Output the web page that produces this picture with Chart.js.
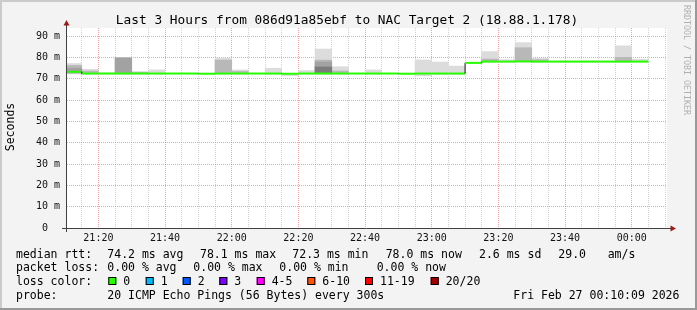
<!DOCTYPE html>
<html><head><meta charset="utf-8">
<script src="https://cdn.jsdelivr.net/npm/chart.js@4"></script>
<style>html,body{margin:0;padding:0;background:#f3f3f3;}#wrap{width:697px;height:310px;}</style>
</head><body><div id="wrap"><canvas id="c" width="697" height="310"></canvas></div>
<script>
// ---- data ----
const bucketTimes = ['21:10','21:15','21:20','21:25','21:30','21:35','21:40','21:45','21:50','21:55',
  '22:00','22:05','22:10','22:15','22:20','22:25','22:30','22:35','22:40','22:45','22:50','22:55',
  '23:00','23:05','23:10','23:15','23:20','23:25','23:30','23:35','23:40','23:45','23:50','23:55','00:00'];
const medians = [73.2,72.4,72.4,72.4,72.4,72.4,72.4,72.4,72.3,72.4,72.4,72.4,72.4,72.3,72.4,72.4,72.4,72.4,
  72.4,72.4,72.3,72.4,72.4,72.4,77.4,78.0,78.0,78.1,78.0,78.0,78.0,78.0,78.0,78.0,78.0];
const smokeOuter = [[72.2,77.1],[72.2,74.4],[72.2,72.8],[72.2,79.8],[72.2,73.3],[72.2,74.1],[72.3,72.6],[72.3,72.6],
  [72.2,72.6],[72.2,79.7],[72.2,74.1],[72.3,72.6],[72.2,74.9],[71.4,72.5],[72.2,73.8],[72.2,83.9],[72.2,75.6],
  [72.3,72.6],[72.2,74.1],[72.3,72.6],[72.2,72.6],[71.4,78.8],[72.0,77.8],[72.0,75.9],[77.2,77.7],[77.8,82.7],
  [77.8,78.9],[77.8,86.9],[77.8,79.5],[77.8,78.2],[77.8,78.2],[77.8,78.3],[77.8,78.2],[77.8,85.4],[77.8,79.1]];
const smokeMid = [[72.5,76.2],[72.3,73.6],null,null,[72.3,73.0],null,null,null,null,[72.3,78.7],[72.3,73.4],null,
  null,null,null,[72.3,78.7],[72.3,73.6],null,null,null,null,null,null,null,null,[77.9,79.2],null,[77.9,84.5],
  [77.9,78.9],null,null,null,null,[77.9,80.0],null];
const smokeInner = [[72.8,74.9],null,null,[72.3,79.8],null,null,null,null,null,null,null,null,null,null,null,
  [72.3,77.8],null,null,null,null,null,null,null,null,null,null,null,null,null,null,null,null,null,null,null];
const smokeCore = [null,null,null,null,null,null,null,null,null,null,null,null,null,null,null,
  [72.4,75.5],null,null,null,null,null,null,null,null,null,null,null,null,null,null,null,null,null,null,null];
const xMajorTicks = [20,40,60,80,100,120,140,160,180];
const xTickLabels = ['21:20','21:40','22:00','22:20','22:40','23:00','23:20','23:40','00:00'];
const yTickValues = [0,5,10,15,20,25,30,35,40,45,50,55,60,65,70,75,80,85,90];
const yTickLabels = {0:'0  ',10:'10 m',20:'20 m',30:'30 m',40:'40 m',50:'50 m',60:'60 m',70:'70 m',80:'80 m',90:'90 m'};
const xMin = 10.58, xMax = 190.58, yMax = 93.75, STEP = 5;
const titleText = 'Last 3 Hours from 086d91a85ebf to NAC Target 2 (18.88.1.178)';
const legendLines = [
  [['median rtt:',16],['74.2 ms avg',107.3],['78.1 ms max',200],['72.3 ms min',292.3],['78.0 ms now',385.7],['2.6 ms sd',479],['29.0',558.3],['am/s',607.7]],
  [['packet loss:',16],['0.00 % avg',107.3],['0.00 % max',193.3],['0.00 % min',279.3],['0.00 % now',376.7]],
  [['loss color:',16]],
  [['probe:',16],['20 ICMP Echo Pings (56 Bytes) every 300s',107.3],['Fri Feb 27 00:10:09 2026',513.3]]
];
const lossLabels = ['0','1','2','3','4-5','6-10','11-19','20/20'];
const lossColors = ['#26ff00','#00b8ff','#0059ff','#7e00ff','#ff00ff','#ff5500','#ff0000','#a10000'];
const lossBoxX = [108.3,145.7,182.7,219.3,256.7,307.3,365,430.7];

// ---- build ----
const toMin = s => { let [h,m] = s.split(':').map(Number); if (h < 12) h += 24; return (h-21)*60 + m; };
const starts = bucketTimes.map(toMin);
const mids = starts.map(s => s + STEP/2);
const bars = layer => layer.map((r,i) => r ? {x: mids[i], y: r} : null).filter(Boolean);
const medianPts = [];
starts.forEach((s,i) => { medianPts.push({x:s, y:medians[i]}); medianPts.push({x:s+STEP, y:medians[i]}); });
const xGridTicks = []; for (let v = 15; v <= 190; v += 5) xGridTicks.push(v);

const MONO = '"DejaVu Sans Mono"';
const barDs = (data, color, order) => ({type:'bar', data, backgroundColor: color, borderWidth:0, grouped:false,
  barPercentage:1, categoryPercentage:1, clip:0, order});
const isVert = c => c.p0.parsed.x === c.p1.parsed.x;

const deco = {
  id: 'deco',
  beforeDraw(chart) {
    const {ctx, chartArea: a, width, height} = chart;
    ctx.save();
    ctx.fillStyle = '#f3f3f3'; ctx.fillRect(0,0,width,height);
    ctx.fillStyle = '#ffffff'; ctx.fillRect(a.left, a.top, a.right-a.left, a.bottom-a.top);
    ctx.restore();
  },
  afterDraw(chart) {
    const {ctx, chartArea: a, width, height} = chart;
    ctx.save();
    // frame
    ctx.fillStyle = '#cbcbcb'; ctx.fillRect(0,0,width,2); ctx.fillRect(0,0,2,height);
    ctx.fillStyle = '#999999'; ctx.fillRect(0,height-2,width,2); ctx.fillRect(width-2,0,2,height);
    // axes
    ctx.strokeStyle = '#404040'; ctx.lineWidth = 1;
    ctx.beginPath(); ctx.moveTo(a.left-0.5, a.bottom+4); ctx.lineTo(a.left-0.5, a.top-4); ctx.stroke();
    ctx.beginPath(); ctx.moveTo(a.left-5, a.bottom+0.5); ctx.lineTo(a.right+4, a.bottom+0.5); ctx.stroke();
    ctx.fillStyle = '#9c1a1a';
    ctx.beginPath(); ctx.moveTo(a.left-0.5, a.top-8); ctx.lineTo(a.left-3.5, a.top-2.5); ctx.lineTo(a.left+2.5, a.top-2.5); ctx.closePath(); ctx.fill();
    ctx.beginPath(); ctx.moveTo(a.right+9, a.bottom+0.5); ctx.lineTo(a.right+3.5, a.bottom-2.5); ctx.lineTo(a.right+3.5, a.bottom+3.5); ctx.closePath(); ctx.fill();
    // title
    ctx.fillStyle = '#000';
    ctx.font = '12.8px ' + MONO; ctx.textAlign = 'center'; ctx.textBaseline = 'alphabetic';
    ctx.fillText(titleText, 347, 24);
    // legend
    ctx.font = '11.5px ' + MONO; ctx.textAlign = 'left';
    const ys = [257.6, 271.3, 285.2, 299];
    legendLines.forEach((line, li) => line.forEach(([t,x]) => ctx.fillText(t, x, ys[li])));
    lossLabels.forEach((lab, i) => {
      const bx = lossBoxX[i];
      ctx.fillStyle = lossColors[i]; ctx.fillRect(bx, 277, 8, 8);
      ctx.strokeStyle = '#000'; ctx.lineWidth = 1; ctx.strokeRect(bx+0.5, 277.5, 7, 7);
      ctx.fillStyle = '#000'; ctx.fillText(lab, bx+15, ys[2]);
    });
    // y title
    ctx.save(); ctx.translate(11, 127); ctx.rotate(-Math.PI/2);
    ctx.font = '11.5px ' + MONO; ctx.textAlign = 'center'; ctx.textBaseline = 'middle';
    ctx.fillText('Seconds', 0, 0); ctx.restore();
    // watermark
    ctx.save(); ctx.translate(686.5, 60); ctx.rotate(Math.PI/2);
    ctx.font = '8.3px ' + MONO; ctx.textAlign = 'center'; ctx.textBaseline = 'middle'; ctx.fillStyle = '#b0b0b0';
    ctx.fillText('RRDTOOL / TOBI OETIKER', 0, 0); ctx.restore();
    ctx.restore();
  }
};

new Chart(document.getElementById('c'), {
  type: 'bar',
  data: { datasets: [
    {type:'line', data: medianPts, borderColor:'#26ff00', borderWidth:2, pointRadius:0, tension:0, clip:0, order:0,
     borderCapStyle:'butt', borderJoinStyle:'miter',
     segment: { borderColor: c => isVert(c) ? '#1a1a1a' : undefined, borderWidth: c => isVert(c) ? 1 : undefined }},
    barDs(bars(smokeCore), '#7c7c7c', 1),
    barDs(bars(smokeInner), '#a2a2a2', 2),
    barDs(bars(smokeMid), '#b8b8b8', 3),
    barDs(bars(smokeOuter), '#dcdcdc', 4)
  ]},
  options: {
    responsive: false, devicePixelRatio: 1, animation: false, events: [],
    layout: { padding: {left:0, top:28, right:30, bottom:0} },
    plugins: { legend:{display:false}, tooltip:{enabled:false}, title:{display:false} },
    scales: {
      x: { type:'linear', min:xMin, max:xMax, offset:false,
        grid: { offset:false, drawTicks:false, lineWidth:1,
          color: c => (c.tick && xMajorTicks.includes(c.tick.value)) ? 'rgba(255,95,95,0.6)' : 'rgba(170,170,170,0.55)' },
        border: { display:false, dash:[1,1] },
        ticks: { autoSkip:false, maxRotation:0, minRotation:0, padding:4, color:'#111',
          font:{family:'DejaVu Sans Mono', size:10},
          callback: v => { const i = xMajorTicks.indexOf(v); return i >= 0 ? xTickLabels[i] : ''; } },
        afterBuildTicks: s => { s.ticks = xGridTicks.map(v => ({value:v})); },
        afterFit: s => { s.height = 82; } },
      y: { type:'linear', min:0, max:yMax,
        grid: { drawTicks:false, lineWidth:1,
          color: c => (c.tick && c.tick.value % 10 === 0) ? 'rgba(255,95,95,0.6)' : 'rgba(170,170,170,0.55)' },
        border: { display:false, dash:[1,1] },
        ticks: { padding:7, color:'#111', font:{family:'DejaVu Sans Mono', size:10},
          callback: v => yTickLabels[v] !== undefined ? yTickLabels[v] : '' },
        afterBuildTicks: s => { s.ticks = yTickValues.map(v => ({value:v})); },
        afterFit: s => { s.width = 67; } }
    }
  },
  plugins: [deco]
});
</script></body></html>
